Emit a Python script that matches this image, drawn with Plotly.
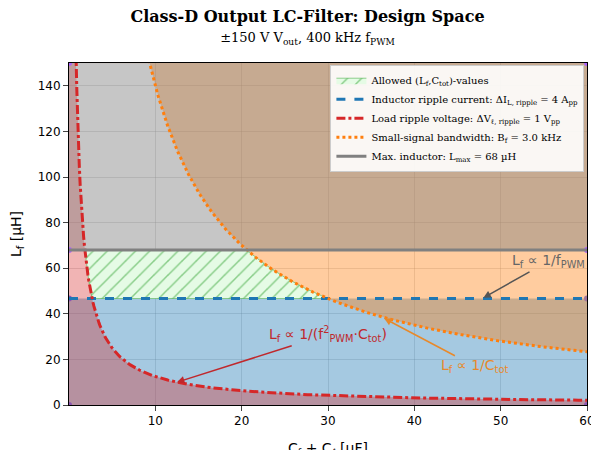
import numpy as np
import plotly.graph_objects as go

# data
L_ripple = 46.7      # inductor ripple current limit [uH]
L_max = 68.0         # max inductor [uH]
k_volt = 125.0       # load ripple voltage: L = k_volt / C
k_bw = 1400.0        # bandwidth: L = k_bw / C
x_range = [0.0, 60.0]
y_range = [0.0, 150.0]

C = np.linspace(0.5, 60, 600)
L_volt = k_volt / C
L_bw = k_bw / C

fig = go.Figure()
fig.add_trace(go.Scatter(x=[0, 60, 60, 0], y=[0, 0, L_ripple, L_ripple], fill='toself',
    fillcolor='rgba(31,119,180,0.4)', line=dict(width=0), showlegend=False, hoverinfo='skip'))
fig.add_trace(go.Scatter(x=np.r_[0, C, 60, 0], y=np.r_[150, np.minimum(L_volt, 150), 0, 0], fill='toself',
    fillcolor='rgba(214,39,40,0.35)', line=dict(width=0), showlegend=False, hoverinfo='skip'))
fig.add_trace(go.Scatter(x=np.r_[C, 60, 0.5], y=np.r_[np.minimum(L_bw, 150), 150, 150], fill='toself',
    fillcolor='rgba(255,127,14,0.4)', line=dict(width=0), showlegend=False, hoverinfo='skip'))
fig.add_trace(go.Scatter(x=[0, 60, 60, 0], y=[L_max, L_max, 150, 150], fill='toself',
    fillcolor='rgba(128,128,128,0.45)', line=dict(width=0), showlegend=False, hoverinfo='skip'))
Ca = np.linspace(k_volt / L_max, k_bw / L_ripple, 300)
lo = np.maximum(L_ripple, k_volt / Ca)
hi = np.minimum(L_max, k_bw / Ca)
fig.add_trace(go.Scatter(x=np.r_[Ca, Ca[::-1]], y=np.r_[lo, hi[::-1]], fill='toself',
    fillcolor='rgba(220,255,220,1)', fillpattern=dict(shape='/', fgcolor='#2ca02c', bgcolor='#e5fbe5', size=10, solidity=0.15),
    line=dict(width=0.5, color='#2ca02c'), name='Allowed (L<sub>f</sub>,C<sub>tot</sub>)-values', hoverinfo='skip'))
fig.add_trace(go.Scatter(x=x_range, y=[L_ripple]*2, mode='lines', line=dict(color='#1f77b4', width=3, dash='dash'),
    name='Inductor ripple current: ΔI<sub>L, ripple</sub> = 4 A<sub>pp</sub>'))
fig.add_trace(go.Scatter(x=C, y=L_volt, mode='lines', line=dict(color='#d62728', width=3, dash='dashdot'),
    name='Load ripple voltage: ΔV<sub>ℓ, ripple</sub> = 1 V<sub>pp</sub>'))
fig.add_trace(go.Scatter(x=C, y=L_bw, mode='lines', line=dict(color='#ff7f0e', width=3, dash='dot'),
    name='Small-signal bandwidth: B<sub>f</sub> = 3.0 kHz'))
fig.add_trace(go.Scatter(x=x_range, y=[L_max]*2, mode='lines', line=dict(color='gray', width=3),
    name='Max. inductor: L<sub>max</sub> = 68 µH'))

fig.add_annotation(x=48, y=47, ax=55.5, ay=63, axref='x', ayref='y', text='L<sub>f</sub> ∝ 1/f<sub>PWM</sub>',
    showarrow=True, arrowhead=2, arrowcolor='#555', arrowwidth=1.5, font=dict(color='#666', size=14))
fig.add_annotation(x=12.5, y=10, ax=30, ay=31, axref='x', ayref='y', text='L<sub>f</sub> ∝ 1/(f<sup>2</sup><sub>PWM</sub>·C<sub>tot</sub>)',
    showarrow=True, arrowhead=2, arrowcolor='#c0282c', arrowwidth=1.5, font=dict(color='#c0282c', size=14))
fig.add_annotation(x=36.5, y=38, ax=47, ay=17, axref='x', ayref='y', text='L<sub>f</sub> ∝ 1/C<sub>tot</sub>',
    showarrow=True, arrowhead=2, arrowcolor='#e8892a', arrowwidth=1.5, font=dict(color='#e8892a', size=14))

fig.update_layout(
    width=599, height=450, paper_bgcolor='white', plot_bgcolor='white',
    margin=dict(l=61, r=20, t=55, b=53, autoexpand=False),
    title=dict(text='<b>Class-D Output LC-Filter: Design Space</b><br><span style="font-size:13px">±150 V V<sub>out</sub>, 400 kHz f<sub>PWM</sub></span>',
               x=0.5, xanchor='center', y=0.97, yanchor='top', font=dict(family='DejaVu Serif', size=16, color='black')),
    font=dict(family='DejaVu Sans', size=12, color='black'),
    legend=dict(x=0.995, y=0.995, xanchor='right', yanchor='top', bgcolor='rgba(255,255,255,0.9)',
                bordercolor='#ccc', borderwidth=1, font=dict(family='DejaVu Serif', size=10), tracegroupgap=0),
    xaxis=dict(range=x_range, tickvals=[10, 20, 30, 40, 50, 60], showgrid=True, gridcolor='rgba(150,150,150,0.3)',
               ticks='outside', showline=True, linecolor='black', mirror=True, zeroline=False, automargin=False,
               title=dict(text='C<sub>f</sub> + C<sub>ℓ</sub> [µF]', font=dict(size=14))),
    yaxis=dict(range=y_range, tickvals=[0, 20, 40, 60, 80, 100, 120, 140], showgrid=True, gridcolor='rgba(150,150,150,0.3)',
               ticks='outside', showline=True, linecolor='black', mirror=True, zeroline=False, automargin=False,
               title=dict(text='L<sub>f</sub> [µH]', font=dict(size=14))),
)
fig.write_html('out.html')
